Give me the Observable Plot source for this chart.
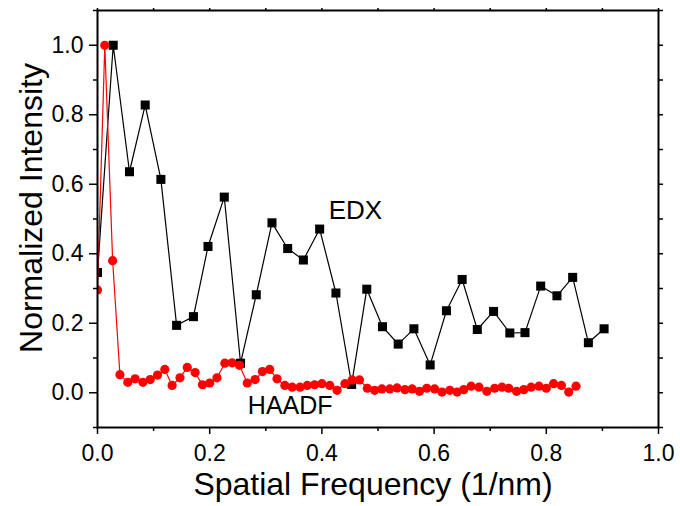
<!DOCTYPE html>
<html>
<head>
<meta charset="utf-8">
<script src="https://cdn.jsdelivr.net/npm/d3@7"></script>
<script src="https://cdn.jsdelivr.net/npm/@observablehq/plot@0.6"></script>
<style>
  html, body { margin: 0; padding: 0; background: #fff; }
</style>
</head>
<body>
<div id="chart"></div>
<script>
// EDX series (black squares)
const edxX = [0, 0.028, 0.057, 0.085, 0.113, 0.141, 0.171, 0.197, 0.226, 0.255, 0.283, 0.311, 0.339, 0.367, 0.396, 0.425, 0.453, 0.480, 0.508, 0.536, 0.564, 0.593, 0.622, 0.650, 0.677, 0.706, 0.735, 0.762, 0.790, 0.819, 0.847, 0.875, 0.903];
const edxY = [0.346, 1.0, 0.636, 0.828, 0.614, 0.194, 0.219, 0.421, 0.563, 0.085, 0.282, 0.489, 0.415, 0.382, 0.471, 0.287, 0.024, 0.298, 0.190, 0.140, 0.184, 0.080, 0.236, 0.326, 0.182, 0.234, 0.172, 0.173, 0.307, 0.279, 0.332, 0.144, 0.184];

// HAADF series (red circles)
const haadfX = [0, 0.013, 0.027, 0.040, 0.054, 0.067, 0.081, 0.094, 0.107, 0.120, 0.133, 0.147, 0.160, 0.174, 0.187, 0.200, 0.213, 0.227, 0.240, 0.253, 0.267, 0.281, 0.294, 0.307, 0.320, 0.334, 0.347, 0.361, 0.374, 0.387, 0.400, 0.414, 0.427, 0.441, 0.454, 0.467, 0.481, 0.494, 0.507, 0.521, 0.534, 0.548, 0.561, 0.574, 0.587, 0.601, 0.614, 0.628, 0.641, 0.653, 0.666, 0.680, 0.694, 0.708, 0.721, 0.733, 0.747, 0.760, 0.773, 0.787, 0.800, 0.813, 0.827, 0.840, 0.853];
const haadfY = [0.296, 1.0, 0.38, 0.052, 0.030, 0.040, 0.030, 0.038, 0.051, 0.067, 0.021, 0.043, 0.073, 0.058, 0.023, 0.028, 0.043, 0.085, 0.086, 0.079, 0.028, 0.038, 0.061, 0.067, 0.040, 0.021, 0.016, 0.016, 0.021, 0.023, 0.026, 0.021, 0.007, 0.026, 0.037, 0.037, 0.013, 0.007, 0.011, 0.011, 0.014, 0.009, 0.011, 0.004, 0.013, 0.011, 0.002, 0.007, 0.002, 0.009, 0.019, 0.016, 0.004, 0.013, 0.016, 0.013, 0.004, 0.009, 0.016, 0.019, 0.013, 0.026, 0.021, 0.002, 0.019];

// Axis ticks
const xMajorTicks = [0, 0.2, 0.4, 0.6, 0.8, 1.0];
const xMinorTicks = [0.1, 0.3, 0.5, 0.7, 0.9];
const xAllTicks = [0, 0.1, 0.2, 0.3, 0.4, 0.5, 0.6, 0.7, 0.8, 0.9, 1.0];
const yMajorTicks = [0, 0.2, 0.4, 0.6, 0.8, 1.0];
const yMinorTicks = [-0.1, 0.1, 0.3, 0.5, 0.7, 0.9, 1.1];
const yAllTicks = [-0.1, 0, 0.1, 0.2, 0.3, 0.4, 0.5, 0.6, 0.7, 0.8, 0.9, 1.0, 1.1];

const xTitle = "Spatial Frequency (1/nm)";
const yTitle = "Normalized Intensity";
const edxName = "EDX";
const haadfName = "HAADF";

const edx = edxX.map((x, i) => ({f: x, v: edxY[i]}));
const haadf = haadfX.map((x, i) => ({f: x, v: haadfY[i]}));

const font = "Arial, 'Liberation Sans', sans-serif";
const fmt = d3.format(".1f");

const chart = Plot.plot({
  width: 680,
  height: 506,
  marginLeft: 97,
  marginRight: 22,
  marginTop: 10,
  marginBottom: 79,
  style: {fontFamily: font, fontSize: "23px", color: "#000", background: "#fff", overflow: "visible"},
  x: {domain: [0, 1.0], label: null},
  y: {domain: [-0.1, 1.1], label: null},
  marks: [
    // EDX
    Plot.line(edx, {x: "f", y: "v", stroke: "#000", strokeWidth: 1.2, clip: "frame"}),
    Plot.dot(edx, {x: "f", y: "v", symbol: "square", r: 5.1, fill: "#000", stroke: "none", clip: "frame"}),
    // HAADF
    Plot.line(haadf, {x: "f", y: "v", stroke: "#ff0000", strokeWidth: 1.2, clip: "frame"}),
    Plot.dot(haadf, {x: "f", y: "v", r: 4.6, fill: "#ff0000", stroke: "none", clip: "frame"}),
    // series labels
    Plot.text([edxName], {x: () => 0.412, y: () => 0.501, text: d => d, textAnchor: "start", lineAnchor: "bottom", fontSize: 26, fill: "#000"}),
    Plot.text([haadfName], {x: () => 0.268, y: () => -0.060, text: d => d, textAnchor: "start", lineAnchor: "bottom", fontSize: 25, fill: "#000"}),
    // axes
    Plot.axisX({ticks: xMajorTicks, tickSize: 7, tickPadding: 10, tickFormat: fmt, fontSize: 23, strokeWidth: 1.5, label: null}),
    Plot.axisX({ticks: xMinorTicks, tickSize: 4, text: null, strokeWidth: 1.5, label: null}),
    Plot.axisX({anchor: "top", ticks: xAllTicks, tickSize: 3, text: null, strokeWidth: 1.5, label: null}),
    Plot.axisY({ticks: yMajorTicks, tickSize: 8, tickPadding: 6, tickFormat: fmt, fontSize: 23, strokeWidth: 1.5, label: null}),
    Plot.axisY({ticks: yMinorTicks, tickSize: 4, text: null, strokeWidth: 1.5, label: null}),
    Plot.axisY({anchor: "right", ticks: yAllTicks, tickSize: 4, text: null, strokeWidth: 1.5, label: null}),
    // axis titles
    Plot.text([xTitle], {frameAnchor: "bottom", text: d => d, dx: -5, dy: 67, textAnchor: "middle", lineAnchor: "bottom", fontSize: 32, fill: "#000"}),
    Plot.text([yTitle], {frameAnchor: "left", text: d => d, dx: -56, dy: -11, rotate: -90, textAnchor: "middle", lineAnchor: "bottom", fontSize: 32, fill: "#000"}),
    Plot.frame({stroke: "#000", strokeWidth: 2})
  ]
});

document.getElementById("chart").appendChild(chart);
</script>
</body>
</html>
